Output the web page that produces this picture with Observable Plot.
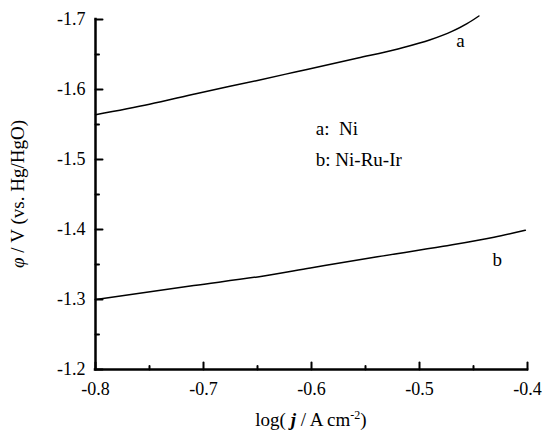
<!DOCTYPE html>
<html><head><meta charset="utf-8">
<script src="https://cdn.jsdelivr.net/npm/d3@7"></script>
<script src="https://cdn.jsdelivr.net/npm/@observablehq/plot@0.6"></script>
<style>body{margin:0;background:#fff} svg{display:block}</style>
</head><body><div id="chart"></div>
<script>
// Curve a: Ni
const aLogJ = [-0.800, -0.750, -0.707, -0.650, -0.615, -0.557, -0.520, -0.490, -0.470, -0.456, -0.445];
const aPhi  = [-1.564, -1.579, -1.594, -1.613, -1.625, -1.645, -1.658, -1.671, -1.683, -1.694, -1.705];
// Curve b: Ni-Ru-Ir
const bLogJ = [-0.800, -0.709, -0.647, -0.601, -0.539, -0.478, -0.431, -0.402];
const bPhi  = [-1.300, -1.320, -1.333, -1.345, -1.361, -1.376, -1.389, -1.399];

const xTicks = [-0.8, -0.7, -0.6, -0.5, -0.4];
const xMinor = [-0.75, -0.65, -0.55, -0.45];
const yTicks = [-1.2, -1.3, -1.4, -1.5, -1.6, -1.7];
const yMinor = [-1.25, -1.35, -1.45, -1.55, -1.65];

const curveLabels = [{x: -0.462, y: -1.670, t: "a"}, {x: -0.428, y: -1.356, t: "b"}];
const legendLines = [{x: -0.596, y: -1.544, t: "a:  Ni"}, {x: -0.596, y: -1.499, t: "b: Ni-Ru-Ir"}];

const W = 543, H = 434, ML = 95, MR = 16, MT = 19, MB = 65;
const fmt = d => d.toFixed(1);

const dataA = aLogJ.map((x, i) => ({x, y: aPhi[i]}));
const dataB = bLogJ.map((x, i) => ({x, y: bPhi[i]}));

const tickShape = {draw(context, l) { context.moveTo(0, 0); context.lineTo(0, -l); }};

const plot = Plot.plot({
  width: W, height: H,
  marginLeft: ML, marginRight: MR, marginTop: MT, marginBottom: MB,
  style: {fontFamily: "'Liberation Serif', 'Times New Roman', serif", fontSize: "18px", background: "#fff", color: "#000"},
  x: {domain: [-0.8, -0.4]},
  y: {domain: [-1.2, -1.7]},
  marks: [
    Plot.axisX(xTicks, {tickSize: 0, tickPadding: 13, tickFormat: fmt, label: null, fontSize: 18}),
    Plot.axisY(yTicks, {tickSize: 0, tickPadding: 10, tickFormat: fmt, label: null, fontSize: 18}),
    // inward tick marks
    Plot.vector(xTicks, {x: d => d, y: -1.2, length: 7, rotate: 0, anchor: "start", shape: tickShape, stroke: "#000", strokeWidth: 2}),
    Plot.vector(xMinor, {x: d => d, y: -1.2, length: 3.5, rotate: 0, anchor: "start", shape: tickShape, stroke: "#000", strokeWidth: 2}),
    Plot.vector(yTicks, {x: -0.8, y: d => d, length: 7, rotate: 90, anchor: "start", shape: tickShape, stroke: "#000", strokeWidth: 2}),
    Plot.vector(yMinor, {x: -0.8, y: d => d, length: 3.5, rotate: 90, anchor: "start", shape: tickShape, stroke: "#000", strokeWidth: 2}),
    Plot.ruleX([-0.8], {stroke: "#000", strokeWidth: 2.5, strokeLinecap: "square"}),
    Plot.ruleY([-1.2], {stroke: "#000", strokeWidth: 2.5, strokeLinecap: "square"}),
    Plot.line(dataA, {x: "x", y: "y", curve: "monotone-x", stroke: "#000", strokeWidth: 1.5}),
    Plot.line(dataB, {x: "x", y: "y", curve: "monotone-x", stroke: "#000", strokeWidth: 1.5}),
    Plot.text(curveLabels, {x: "x", y: "y", text: "t", fontSize: 19, fill: "#000"}),
    Plot.text(legendLines, {x: "x", y: "y", text: "t", textAnchor: "start", fontSize: 19, fill: "#000"})
  ]
});

const svg = d3.select(plot);
// x axis title with italic j and superscript
const xt = svg.append("text")
  .attr("x", (ML + W - MR) / 2).attr("y", 426)
  .attr("text-anchor", "middle").attr("font-size", 19).attr("fill", "#000");
xt.append("tspan").text("log( ");
xt.append("tspan").attr("font-style", "italic").attr("font-weight", "bold").text("j");
xt.append("tspan").text(" / A cm");
xt.append("tspan").attr("font-size", 12).attr("dy", -7).text("-2");
xt.append("tspan").attr("dy", 7).text(")");
// y axis title rotated
const yt = svg.append("text")
  .attr("transform", `translate(24,${(MT + H - MB) / 2}) rotate(-90)`)
  .attr("text-anchor", "middle").attr("font-size", 19).attr("fill", "#000");
yt.append("tspan").attr("font-style", "italic").text("φ");
yt.append("tspan").text(" / V (vs. Hg/HgO)");

document.getElementById("chart").append(plot);
</script>
</body></html>
